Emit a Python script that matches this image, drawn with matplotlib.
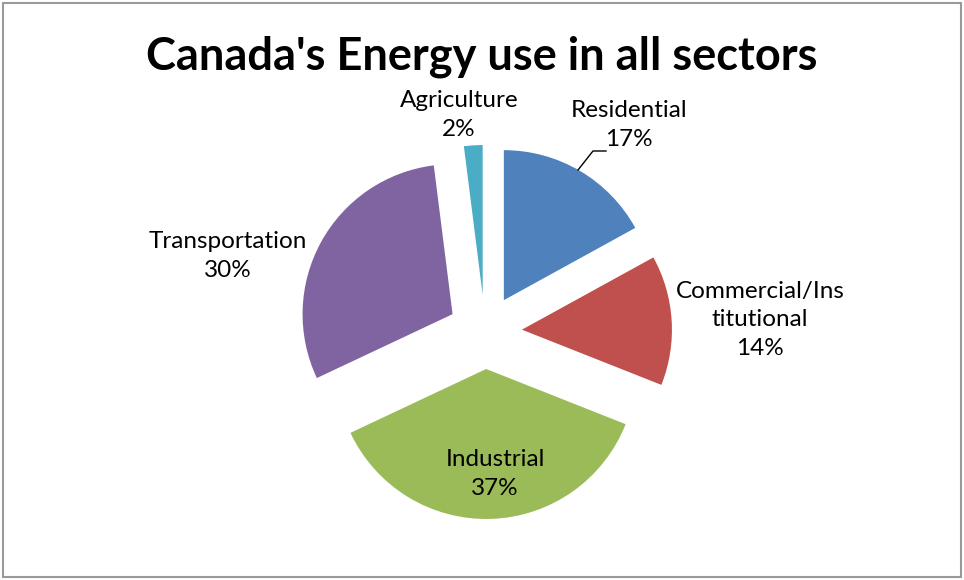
import matplotlib
matplotlib.use("Agg")
import matplotlib.pyplot as plt
from matplotlib.patches import Rectangle

# ---- data ----
categories = ["Residential", "Commercial/Institutional", "Industrial", "Transportation", "Agriculture"]
label_texts = ["Residential\n17%", "Commercial/Ins\ntitutional\n14%", "Industrial\n37%", "Transportation\n30%", "Agriculture\n2%"]
values = [17, 14, 37, 30, 2]
colors = ["#4F81BD", "#C0504D", "#9BBB59", "#8064A2", "#4BACC6"]
title = "Canada's Energy use in all sectors"

W, H = 964, 580
fig = plt.figure(figsize=(W / 100, H / 100), dpi=100)
ax = fig.add_axes([0, 0, 1, 1])

fam = ["Lato", "DejaVu Sans"]

cx, cy = 485, H - 332
R = 150
ax.pie(values, colors=colors, startangle=90, counterclock=False,
       explode=[37] * len(values), radius=R, center=(cx, cy),
       wedgeprops=dict(linewidth=0))
ax.set_xlim(0, W)
ax.set_ylim(0, H)
ax.set_aspect("equal")
ax.axis("off")

# label positions (pixel coords, y from top)
label_pos = [(629, 125), (760, 320), (495, 474), (228, 256), (459, 115)]
for txt, (px, py) in zip(label_texts, label_pos):
    ax.text(px, H - py, txt, ha="center", va="center", fontsize=17.5,
            family=fam, color="#000000", linespacing=1.42)

# leader line for Residential
ax.plot([578, 593, 606], [H - 170, H - 151, H - 151], color="#000000", lw=1)

fig.text(482 / W, 1 - 57 / H, title, ha="center", va="center",
         fontsize=32.5, fontweight="bold", family=fam)

fig.patches.append(Rectangle((3 / W, 3 / H), (W - 6) / W, (H - 6) / H,
                             transform=fig.transFigure, fill=False,
                             edgecolor="#9a9a9a", lw=1.5))

fig.savefig("out.png", dpi=100)
